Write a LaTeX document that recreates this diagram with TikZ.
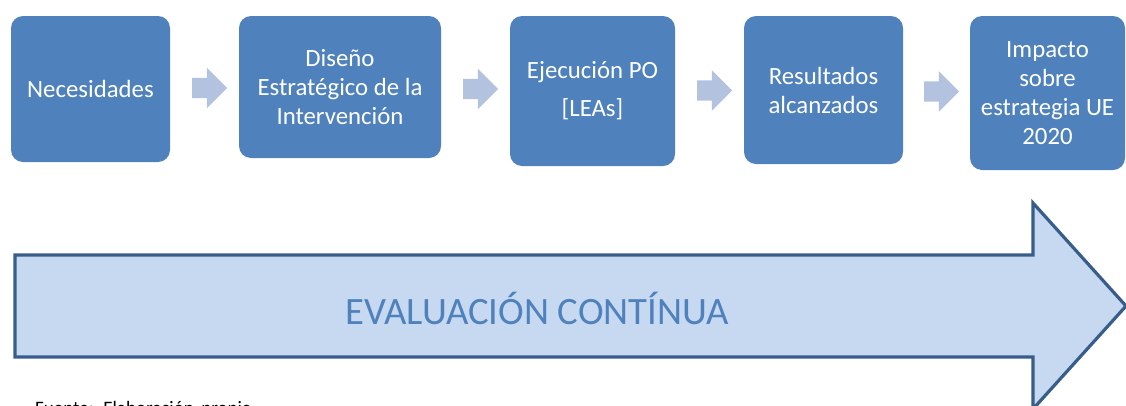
\documentclass[tikz,border=0pt]{standalone}
\usepackage{fontspec}
\setmainfont{Carlito}
\usetikzlibrary{shapes.arrows,calc}
\definecolor{boxblue}{HTML}{4F81BD}
\definecolor{smallarr}{HTML}{B3C3DF}
\definecolor{bigfill}{HTML}{C6D9F1}
\definecolor{bigline}{HTML}{385D8A}
\tikzset{
  stage/.style={draw=none, fill=boxblue, rounded corners=12pt, text=white, align=center,
    font=\fontsize{24.8}{29}\selectfont, inner sep=0pt},
  flowarrow/.style={single arrow, fill=smallarr, draw=none, inner xsep=0pt, inner ysep=10pt,
    minimum height=35pt, single arrow head extend=10pt, anchor=center},
}
\begin{document}
\begin{tikzpicture}[x=1pt,y=-1pt]
\useasboundingbox (0,0) rectangle (1126,405);
\node[stage, minimum width=159pt, minimum height=146pt] (b1) at (90.5,89) {Necesidades};
\node[stage, minimum width=202pt, minimum height=142pt] (b2) at (340,87) {Diseño\\Estratégico de la\\Intervención};
\node[stage, minimum width=165pt, minimum height=150pt] (b3) at (592.5,91) {Ejecución PO\\[9pt][LEAs]};
\node[stage, minimum width=159pt, minimum height=148pt] (b4) at (823.5,90) {Resultados\\alcanzados};
\node[stage, minimum width=155pt, minimum height=154pt] (b5) at (1047.5,93) {Impacto\\sobre\\estrategia UE\\2020};
\node[flowarrow] (a1) at ($(b1.east)!0.5!(b2.west)$ |- 0,87.5) {};
\node[flowarrow] (a2) at ($(b2.east)!0.5!(b3.west)$ |- 0,88.5) {};
\node[flowarrow] (a3) at ($(b3.east)!0.5!(b4.west)$ |- 0,89) {};
\node[flowarrow] (a4) at ($(b4.east)!0.5!(b5.west)$ |- 0,90.5) {};
\draw[line width=3.2pt, draw=bigline, fill=bigfill, line join=miter]
  (15,255) -- (1033,255) -- (1033,203) -- (1126,306) -- (1033,409) -- (1033,357) -- (15,357) -- cycle;
\node[text=boxblue, font=\fontsize{38.7}{42}\selectfont, inner sep=0pt] (ev) at (537,308) {EVALUACIÓN CONTÍNUA};
\node[anchor=base west, font=\fontsize{19}{22}\selectfont, inner sep=0pt] (src) at (35,414.5) {Fuente:\hspace{0.5em}Elaboración\hspace{0.4em}propia};
\end{tikzpicture}
\end{document}
